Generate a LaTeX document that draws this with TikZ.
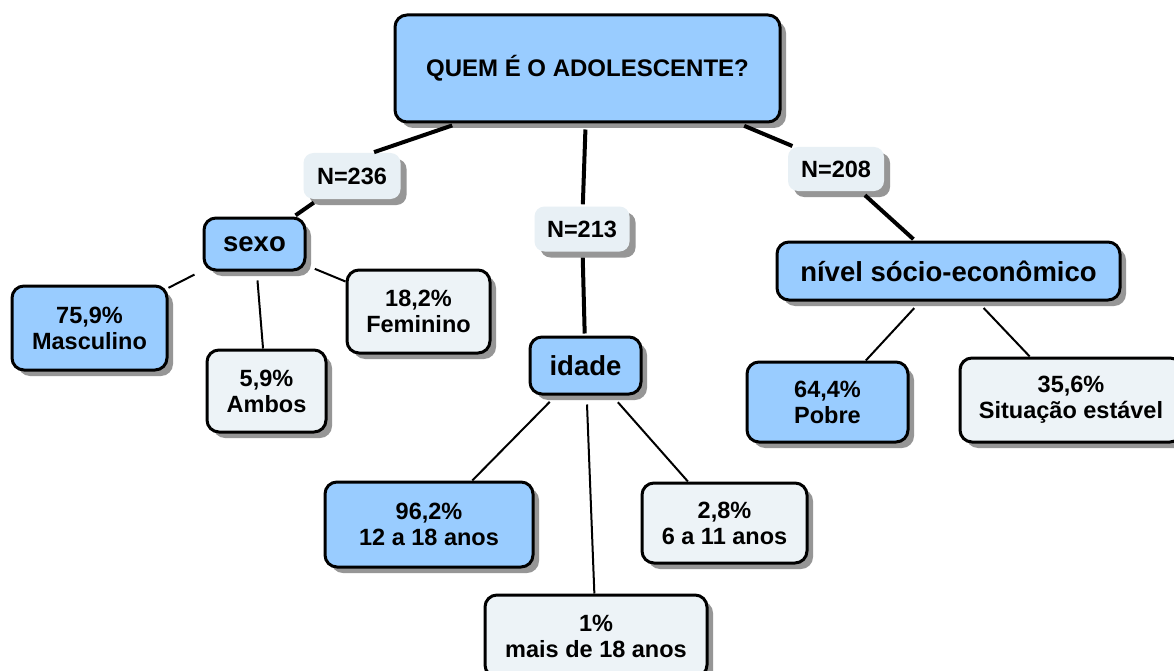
\documentclass[tikz,border=0pt]{standalone}
\usepackage{fontspec}
\setmainfont{Liberation Sans}
\usetikzlibrary{shadows}
\definecolor{boxblue}{RGB}{153,204,255}
\definecolor{boxlight}{RGB}{237,243,247}
\definecolor{nlight}{RGB}{232,240,245}
\definecolor{shadowgray}{RGB}{150,150,150}
\begin{document}
\begin{tikzpicture}[x=1pt,y=-1pt,
  base/.style={draw=black, line width=3pt, rounded corners=12pt, align=center, inner sep=0pt,
    font=\bfseries\fontsize{23.5}{26}\selectfont,
    drop shadow={shadow xshift=6pt, shadow yshift=-6pt, fill=shadowgray, opacity=1}},
  bluebox/.style={base, fill=boxblue},
  lightbox/.style={base, fill=boxlight},
  catbox/.style={bluebox, font=\bfseries\fontsize{27.5}{30}\selectfont},
  rootbox/.style={bluebox, font=\bfseries\fontsize{24}{28}\selectfont},
  nlabel/.style={fill=nlight, rounded corners=10pt, inner sep=0pt, align=center,
    font=\bfseries\fontsize{23.5}{26}\selectfont,
    drop shadow={shadow xshift=6pt, shadow yshift=-6pt, fill=shadowgray, opacity=1}},
  thickline/.style={line width=4pt, shorten <=6pt, shorten >=2pt},
  thinline/.style={line width=2pt, shorten <=9pt, shorten >=0pt}
]
\fill[white] (0,0) rectangle (1174,671);
\useasboundingbox (0,0) rectangle (1174,671);

% root
\node[rootbox, minimum width=385pt, minimum height=107pt] (root) at (587.5,68.5) {QUEM É O ADOLESCENTE?};

% N labels
\node[nlabel, minimum width=97pt, minimum height=46pt] (n236) at (352,176) {N=236};
\node[nlabel, minimum width=95pt, minimum height=45pt] (n213) at (582,229) {N=213};
\node[nlabel, minimum width=96pt, minimum height=44pt] (n208) at (836,169) {N=208};

% categories
\node[catbox, minimum width=101pt, minimum height=52pt] (sexo) at (254.5,244) {sexo};
\node[catbox, minimum width=111pt, minimum height=57pt] (idade) at (585.5,365.5) {idade};
\node[catbox, minimum width=343pt, minimum height=58pt] (nivel) at (948.5,271) {nível sócio-econômico};

% leaves
\node[bluebox, minimum width=155pt, minimum height=84pt] (masc) at (89.5,328) {75,9\%\\Masculino};
\node[lightbox, minimum width=119pt, minimum height=82pt] (ambos) at (266.5,391) {5,9\%\\Ambos};
\node[lightbox, minimum width=143pt, minimum height=83pt] (fem) at (418.5,311.5) {18,2\%\\Feminino};

\node[bluebox, minimum width=208pt, minimum height=85pt] (doze) at (429,524.5) {96,2\%\\12 a 18 anos};
\node[lightbox, minimum width=222pt, minimum height=82pt] (mais) at (596,636) {1\%\\mais de 18 anos};
\node[lightbox, minimum width=165pt, minimum height=80pt] (seis) at (724.5,523) {2,8\%\\6 a 11 anos};

\node[bluebox, minimum width=161pt, minimum height=80pt] (pobre) at (827.5,402) {64,4\%\\Pobre};
\node[lightbox, minimum width=222pt, minimum height=84pt] (estavel) at (1071,400) {35,6\%\\Situação estável};

% connectors
\draw[thickline] (root.203) -- (n236.49);
\draw[thickline] (n236) -- (sexo);
\draw[thickline] (root) -- (n213);
\draw[thickline] (n213) -- (idade);
\draw[thickline] (root.340) -- (n208.152);
\draw[thickline] (n208) -- (nivel);

\draw[thinline] (sexo) -- (masc);
\draw[thinline] (sexo) -- (ambos);
\draw[thinline] (sexo) -- (fem);
\draw[thinline] (idade) -- (doze);
\draw[thinline] (idade) -- (mais);
\draw[thinline] (idade) -- (seis);
\draw[thinline] (nivel) -- (pobre);
\draw[thinline] (nivel) -- (estavel);
\end{tikzpicture}
\end{document}
